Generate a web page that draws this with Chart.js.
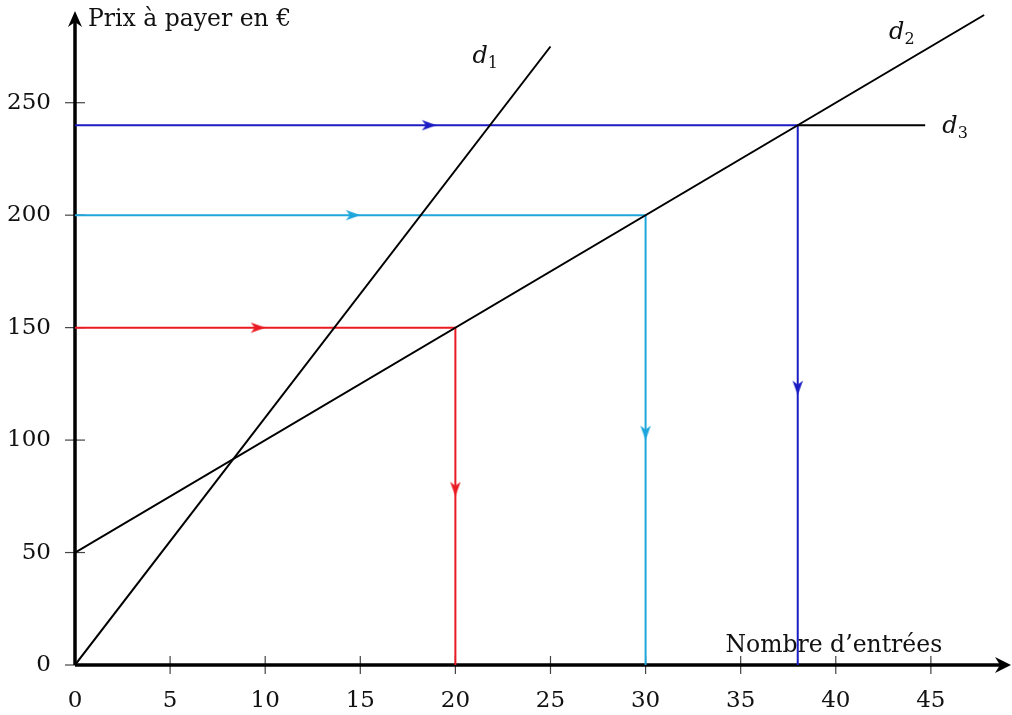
<!DOCTYPE html>
<html lang="fr">
<head>
<meta charset="utf-8">
<script src="https://cdn.jsdelivr.net/npm/chart.js@4.4.1/dist/chart.umd.min.js"></script>
<style>
  html, body { margin: 0; padding: 0; background: #fff; }
  #wrap { width: 1012px; height: 715px; }
</style>
</head>
<body>
<div id="wrap"><canvas id="chart" width="1012" height="715"></canvas></div>
<script>
/* ── Data ────────────────────────────────────────────── */
const xTicks = [0, 5, 10, 15, 20, 25, 30, 35, 40, 45];
const yTicks = [0, 50, 100, 150, 200, 250];

// straight lines d1, d2, d3 (d3 left part is hidden under the blue path)
const d1X = [0, 25];
const d1Y = [0, 275];
const d2X = [0, 47.8];
const d2Y = [50, 289];
const d3X = [38, 44.7];
const d3Y = [240, 240];

// reading paths (price -> number of entries)
const redX = [0, 20, 20];
const redY = [150, 150, 0];
const cyanX = [0, 30, 30];
const cyanY = [200, 200, 0];
const blueX = [0, 38, 38];
const blueY = [240, 240, 0];

// arrow tips along the paths (rotation 0 = right, 90 = down)
const redArrX = [10, 20];
const redArrY = [150, 75];
const cyanArrX = [15, 30];
const cyanArrY = [200, 100];
const blueArrX = [19, 38];
const blueArrY = [240, 120];
const arrRot = [0, 90];

const RED = '#ea1a22';
const CYAN = '#1ea6dc';
const BLUE = '#1c1cc4';
const FONT = '"DejaVu Serif", serif';

/* ── Helpers ─────────────────────────────────────────── */
const pts = (xs, ys) => xs.map((x, i) => ({ x, y: ys[i] }));

// arrow head whose tip sits at the canvas centre
function arrowHead(color) {
  const c = document.createElement('canvas');
  c.width = 32; c.height = 12;
  const g = c.getContext('2d');
  g.fillStyle = color;
  g.beginPath();
  g.moveTo(16, 6);
  g.lineTo(1.5, 0.8);
  g.lineTo(5.5, 6);
  g.lineTo(1.5, 11.2);
  g.closePath();
  g.fill();
  return c;
}

function lineSet(xs, ys, color) {
  return {
    data: pts(xs, ys), showLine: true, borderColor: color, borderWidth: 2,
    pointRadius: 0, fill: false, tension: 0
  };
}

function arrowSet(xs, ys, color) {
  return {
    data: pts(xs, ys), showLine: false, pointStyle: arrowHead(color),
    pointRadius: 5, pointRotation: arrRot, clip: false
  };
}

function noPad(s) {
  s.paddingTop = 0; s.paddingBottom = 0; s.paddingLeft = 0; s.paddingRight = 0;
}

/* ── Decorations: axes with arrows, cross ticks, labels ─ */
const decor = {
  id: 'decor',
  beforeDatasetsDraw(chart) {
    const { ctx, chartArea: a, scales: { x, y } } = chart;
    const x0 = x.getPixelForValue(0), y0 = y.getPixelForValue(0);
    const xe = 1011;
    ctx.save();

    // titles
    ctx.fillStyle = '#111';
    ctx.font = '23.5px ' + FONT;
    ctx.textBaseline = 'alphabetic';
    ctx.textAlign = 'left';
    ctx.fillText('Prix à payer en €', x0 + 13, 26);
    ctx.fillText('Nombre d\u2019entrées', x.getPixelForValue(34.2), y0 - 13);

    // cross ticks
    ctx.strokeStyle = '#444';
    ctx.lineWidth = 1.2;
    xTicks.slice(1).forEach(v => {
      const px = x.getPixelForValue(v);
      ctx.beginPath(); ctx.moveTo(px, y0 - 9); ctx.lineTo(px, y0 + 9); ctx.stroke();
    });
    yTicks.forEach(v => {
      const py = y.getPixelForValue(v);
      ctx.beginPath(); ctx.moveTo(x0 - 10, py); ctx.lineTo(x0 + 10, py); ctx.stroke();
    });

    // axes
    ctx.strokeStyle = '#000';
    ctx.fillStyle = '#000';
    ctx.lineWidth = 3.5;
    ctx.beginPath(); ctx.moveTo(x0, y0); ctx.lineTo(xe - 10, y0); ctx.stroke();
    ctx.beginPath(); ctx.moveTo(x0, y0); ctx.lineTo(x0, a.top + 12); ctx.stroke();
    ctx.beginPath();
    ctx.moveTo(xe, y0); ctx.lineTo(xe - 16, y0 - 8);
    ctx.lineTo(xe - 11, y0); ctx.lineTo(xe - 16, y0 + 8); ctx.closePath(); ctx.fill();
    ctx.beginPath();
    ctx.moveTo(x0, a.top + 5); ctx.lineTo(x0 - 7, a.top + 21);
    ctx.lineTo(x0, a.top + 16); ctx.lineTo(x0 + 7, a.top + 21); ctx.closePath(); ctx.fill();

    // line names
    const name = (n, vx, vy) => {
      const px = x.getPixelForValue(vx), py = y.getPixelForValue(vy);
      ctx.fillStyle = '#111';
      ctx.font = 'italic 24px ' + FONT;
      ctx.fillText('d', px, py + 8);
      const w = ctx.measureText('d').width;
      ctx.font = '16px ' + FONT;
      ctx.fillText(n, px + w, py + 13);
    };
    name('1', 20.9, 271);
    name('2', 42.8, 282);
    name('3', 45.6, 240);
    ctx.restore();
  }
};

/* ── Chart ───────────────────────────────────────────── */
new Chart(document.getElementById('chart'), {
  type: 'scatter',
  data: {
    datasets: [
      lineSet(d3X, d3Y, '#000'),
      lineSet(d1X, d1Y, '#000'),
      lineSet(d2X, d2Y, '#000'),
      lineSet(redX, redY, RED),
      lineSet(cyanX, cyanY, CYAN),
      lineSet(blueX, blueY, BLUE),
      arrowSet(redArrX, redArrY, RED),
      arrowSet(cyanArrX, cyanArrY, CYAN),
      arrowSet(blueArrX, blueArrY, BLUE)
    ]
  },
  options: {
    responsive: false,
    animation: false,
    layout: { padding: { top: 3, right: 2, left: 0, bottom: 0 } },
    plugins: { legend: { display: false }, tooltip: { enabled: false } },
    scales: {
      x: {
        type: 'linear', min: 0, max: 48.95,
        afterBuildTicks: s => { s.ticks = xTicks.map(v => ({ value: v })); },
        afterFit: s => { s.height = 50; noPad(s); },
        grid: { display: false, drawTicks: false },
        border: { display: false },
        ticks: { color: '#111', padding: 22, maxRotation: 0, autoSkip: false,
                 font: { family: FONT, size: 23 } }
      },
      y: {
        type: 'linear', min: 0, max: 293,
        afterBuildTicks: s => { s.ticks = yTicks.map(v => ({ value: v })); },
        afterFit: s => { s.width = 75; noPad(s); },
        grid: { display: false, drawTicks: false },
        border: { display: false },
        ticks: { color: '#111', padding: 24, autoSkip: false,
                 font: { family: FONT, size: 23 } }
      }
    }
  },
  plugins: [decor]
});
</script>
</body>
</html>
